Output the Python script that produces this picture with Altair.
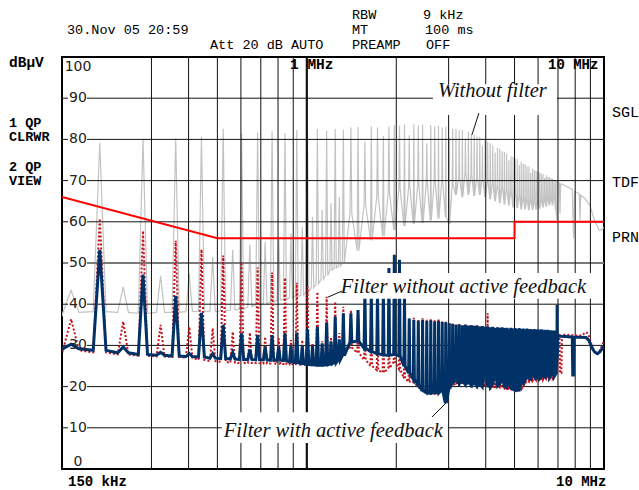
import altair as alt
import pandas as pd

# ---------------- data ----------------
# harmonic frequencies of the converter (MHz)
harm_mhz = [
    0.161, 0.201, 0.241, 0.281, 0.322, 0.362, 0.402, 0.442, 0.482, 0.523,
    0.563, 0.603, 0.643, 0.683, 0.724, 0.764, 0.804, 0.844, 0.884, 0.925,
    0.965, 1.005, 1.045, 1.085, 1.126, 1.166, 1.206, 1.246, 1.286,
    1.327, 1.407, 1.487, 1.568, 1.648, 1.729, 1.809, 1.889, 1.970, 2.050,
    2.131, 2.211, 2.291, 2.372, 2.452, 2.533, 2.613, 2.693, 2.774, 2.854,
    2.935, 3.015, 3.095, 3.176, 3.256, 3.337, 3.417, 3.497, 3.578, 3.658,
    3.739, 3.819, 3.899, 3.980, 4.060, 4.141, 4.221, 4.301, 4.382, 4.462,
    4.543, 4.623, 4.703, 4.784, 4.864, 4.945, 5.025, 5.105, 5.186, 5.266,
    5.347, 5.427, 5.507, 5.588, 5.668, 5.749, 5.829, 5.909, 5.990, 6.070,
    6.151, 6.231, 6.311, 6.392, 6.472, 6.553, 6.633, 6.713, 6.794, 6.874,
    6.955,
]

# Without filter (grey)
gray_start = [0.150, 37.0]
gray_peak_db = [
    43.4, 79.2, 44.2, 80.1, 46.9, 80.2, 47.5, 80.7, 51.5, 82.6,
    53.2, 81.4, 54.4, 81.6, 55.2, 82.0, 56.4, 81.5, 57.2, 82.3,
    58.8, 82.0, 61.2, 82.5, 62.9, 82.1, 64.5, 82.6, 66.0,
    82.4, 82.9, 83.0, 79.5, 83.2, 82.9, 80.8, 83.1, 83.5, 83.3,
    83.6, 81.0, 83.7, 83.4, 83.6, 79.0, 83.5, 83.2, 83.3, 82.9,
    83.1, 80.2, 82.5, 82.6, 82.2, 82.3, 80.0, 81.8, 81.3, 81.1,
    80.7, 80.6, 78.4, 79.9, 79.4, 79.1, 78.5, 76.8, 77.9, 77.7,
    77.1, 77.0, 76.5, 74.9, 75.9, 75.8, 75.3, 75.2, 73.8, 74.6,
    74.1, 74.0, 73.5, 73.4, 71.9, 72.9, 72.5, 72.4, 72.1, 72.0,
    71.7, 71.6, 70.6, 71.3, 70.9, 70.9, 70.6, 70.5, 70.2, 70.1,
    70.0,
]
gray_base_db = [
    38.0, 38.2, 38.0, 37.8, 38.0, 38.0, 38.2, 38.3, 38.2, 38.4,
    38.6, 38.8, 39.4, 39.8, 40.2, 40.5, 41.0, 41.2, 41.5, 41.8,
    42.2, 43.0, 44.0, 45.0, 46.0, 47.0, 48.3, 48.8, 49.2,
    50.0, 62.0, 53.0, 64.0, 55.5, 66.0, 56.5, 67.0, 58.0, 68.0,
    59.0, 68.5, 59.5, 69.0, 59.7, 69.5, 60.3, 70.0, 60.8, 70.0,
    61.2, 59.5, 69.0, 66.5, 71.0, 66.0, 72.0, 66.5, 71.5, 66.3,
    71.0, 66.5, 70.5, 66.0, 70.0, 65.5, 69.5, 65.0, 69.0, 64.5,
    68.5, 64.2, 68.0, 64.0, 67.5, 63.5, 67.0, 63.3, 66.5, 63.0,
    66.0, 63.0, 65.5, 62.8, 65.5, 62.9, 65.0, 63.0, 65.0, 63.2,
    65.5, 63.5, 65.5, 63.7, 66.0, 64.0, 66.0, 64.0, 66.5, 63.0,
    60.4,
]
gray_tail_mhz = [7.00, 7.08, 7.11, 7.15, 7.40, 7.68, 7.82, 7.90, 7.96, 8.18,
                 8.26, 8.30, 8.35, 8.63, 8.97, 9.18, 9.30, 9.62, 9.77, 10.0]
gray_tail_db = [69.6, 69.4, 62.0, 69.2, 68.8, 68.2, 67.8, 56.0, 67.4, 67.0,
                66.8, 60.4, 66.5, 65.6, 64.0, 61.5, 60.3, 58.0, 58.0, 58.6]

# Filter without active feedback (red dotted)
red_start = [0.150, 29.2]
red_peak_db = [
    36.4, 60.8, 35.8, 57.8, 35.0, 55.4, 34.5, 53.3, 34.2, 51.8,
    33.3, 50.2, 33.1, 48.9, 32.1, 47.7, 31.7, 46.4, 31.3, 45.2,
    31.3, 44.3, 30.5, 43.0, 31.0, 41.8, 32.0, 40.6, 33.0,
    39.4, 38.6, 38.2, 37.6, 37.8, 37.2, 37.3, 36.9, 37.0, 36.6,
    36.8, 36.5, 36.7, 36.4, 36.6, 36.3, 36.5, 36.2, 36.3, 36.0,
    35.8, 35.4, 35.3, 35.1, 35.2, 35.0, 35.1, 34.9, 35.0, 34.8,
    34.9, 34.6, 34.5, 34.4, 37.8, 34.3, 34.4, 34.2, 34.3, 34.1,
    34.2, 34.0, 34.1, 33.9, 34.0, 33.8, 33.9, 33.7, 33.8, 33.6,
    33.7, 33.5, 33.6, 33.5, 33.5, 33.4, 33.5, 33.3, 33.4, 33.3,
    33.4, 33.3, 33.3, 33.2, 33.3, 33.2, 33.2, 33.1, 33.2, 33.1,
    33.0,
]
red_base_db = [
    28.8, 28.3, 27.8, 27.5, 27.3, 27.2, 27.0, 26.5, 26.2, 26.0,
    25.8, 25.7, 25.7, 25.7, 25.6, 25.6, 25.5, 25.5, 25.4, 25.4,
    25.3, 25.3, 25.3, 25.4, 25.5, 25.6, 25.8, 26.0, 26.5,
    28.5, 29.5, 28.2, 26.5, 25.0, 24.0, 23.4, 24.5, 26.0, 24.3,
    22.0, 21.2, 21.0, 20.0, 19.5, 19.0, 18.5, 18.3, 18.5, 19.0,
    19.5, 20.0, 20.3, 20.8, 21.0, 20.5, 20.8, 21.0, 20.6, 20.9,
    20.5, 20.3, 20.0, 20.2, 20.0, 19.8, 20.0, 19.9, 20.1, 19.8,
    20.0, 19.6, 19.5, 19.4, 19.3, 19.2, 19.2, 19.0, 19.1, 19.2,
    20.0, 20.8, 21.5, 21.2, 21.8, 21.5, 22.0, 21.6, 22.2, 21.8,
    22.0, 21.7, 22.2, 21.9, 22.3, 22.0, 22.4, 22.1, 22.5, 23.0,
    23.3,
]
red_tail_mhz = [6.985, 7.08, 7.11, 7.19, 7.22, 7.5, 8.0, 8.4, 8.7, 8.85,
                9.05, 9.25, 9.45, 9.65, 9.85, 10.0]
red_tail_db = [33.0, 32.8, 23.3, 23.3, 32.6, 32.6, 32.4, 32.4, 33.2, 32.8,
               30.5, 28.5, 28.0, 28.6, 30.0, 31.0]

# Filter with active feedback (blue)
blue_start = [0.150, 29.5]
blue_peak_db = [
    30.3, 53.2, 29.6, 47.2, 28.3, 42.0, 28.0, 37.9, 28.0, 35.0,
    28.3, 32.9, 29.0, 32.5, 29.7, 32.5, 29.7, 33.0, 29.8, 33.1,
    30.0, 33.9, 30.0, 34.5, 30.5, 35.6, 31.0, 37.0, 31.5,
    37.8, 37.8, 38.6, 43.0, 43.2, 42.8, 43.5, 48.8, 52.0, 50.8,
    42.5, 36.5, 36.2, 36.0, 36.2, 35.9, 36.1, 35.8, 36.0, 35.7,
    35.6, 35.4, 35.2, 35.0, 35.1, 34.9, 35.0, 34.8, 34.9, 34.7,
    34.8, 34.6, 34.7, 34.5, 34.6, 34.4, 34.5, 34.3, 34.4, 34.3,
    34.4, 34.2, 34.3, 34.1, 34.3, 34.1, 34.2, 34.0, 34.2, 34.0,
    34.1, 33.9, 34.1, 33.9, 34.0, 33.8, 34.0, 33.8, 33.9, 33.7,
    33.9, 33.7, 33.8, 33.6, 33.8, 33.6, 33.7, 33.5, 33.6, 33.4,
    39.8,
]
blue_base_db = [
    29.2, 28.8, 28.2, 27.8, 27.6, 27.4, 27.3, 27.2, 26.9, 26.8,
    26.7, 26.6, 26.6, 26.5, 26.5, 26.4, 26.4, 26.3, 26.0, 25.8,
    25.6, 25.4, 25.3, 25.2, 25.2, 25.3, 25.5, 25.8, 26.5,
    27.5, 30.8, 31.0, 29.3, 28.5, 28.0, 27.7, 27.6, 27.8, 27.5,
    25.0, 23.3, 21.8, 20.5, 19.0, 18.5, 18.4, 18.6, 18.5, 19.2,
    16.0, 19.5, 21.0, 21.5, 20.8, 21.3, 20.6, 21.0, 20.4, 20.8,
    20.2, 20.6, 20.0, 26.0, 20.3, 19.9, 20.5, 25.5, 20.2, 20.6,
    24.0, 20.0, 19.8, 22.5, 19.6, 19.4, 19.2, 19.3, 19.2, 24.5,
    20.5, 21.5, 27.0, 22.0, 21.8, 26.5, 22.5, 21.7, 27.0, 22.0,
    22.4, 26.8, 22.0, 22.6, 27.2, 22.3, 22.8, 26.5, 22.5, 23.0,
    27.0,
]
blue_tail_mhz = [6.985, 7.2, 7.6, 7.82, 7.85, 7.89, 7.92, 8.3, 8.7, 8.9,
                 9.1, 9.3, 9.5, 9.7, 9.85, 10.0]
blue_tail_db = [32.3, 32.2, 32.1, 32.0, 22.8, 22.8, 32.0, 32.0, 31.9, 31.2,
                29.5, 28.4, 28.0, 28.5, 29.2, 30.0]

# QP limit line
limit_mhz = [0.15, 0.5, 5.0, 5.0, 10.0]
limit_db = [66, 56, 56, 60, 60]

# grid and tick labels
x_grid_mhz = [0.3, 0.4, 0.5, 0.6, 0.7, 0.8, 0.9, 1, 2, 3, 4, 5, 6, 7, 8, 9]
y_grid_db = [10, 20, 30, 40, 50, 60, 70, 80, 90]

# annotations (data coordinates)
ann_text = ["Without filter", "Filter without active feedback", "Filter with active feedback"]
ann_mhz = [4.21, 3.365, 1.228]
ann_db = [90.3, 42.6, 7.8]
box_mhz1 = [2.657, 1.271, 0.517]
box_mhz2 = [6.947, 9.47, 2.984]
box_db1 = [93.4, 47.6, 13.8]
box_db2 = [85.9, 41.3, 6.3]
lead_mhz1 = [3.793, 1.177, 2.636]
lead_db1 = [86.4, 41.7, 12.6]
lead_mhz2 = [3.594, 1.312, 2.937]
lead_db2 = [81.1, 43.2, 16.0]

for lst in (gray_peak_db, gray_base_db, red_peak_db, red_base_db, blue_peak_db, blue_base_db):
    assert len(lst) == len(harm_mhz), len(lst)

# ---------------- layout / style ----------------
MONO = "Liberation Mono"
SANS = "DejaVu Sans"
SERIF = "Liberation Serif"
W, H = 542, 412
LEFT, TOP = 62, 57
HW = 0.010  # drawn half-width of each harmonic line (MHz)

XS = alt.Scale(type="log", domain=[0.15, 10])
YS = alt.Scale(domain=[0, 100])


def xq(field):
    return alt.X(f"{field}:Q", scale=XS, axis=None)


def yq(field):
    return alt.Y(f"{field}:Q", scale=YS, axis=None)


def trace_df(start, peaks, bases, tail_f, tail_db):
    f = [start[0]]
    d = [start[1]]
    for h, p, b in zip(harm_mhz, peaks, bases):
        f += [h - HW, h, h + HW]
        d += [b, p, b]
    f += tail_f
    d += tail_db
    return pd.DataFrame({"f": f, "db": d, "i": list(range(len(f)))})


def line(df, **kw):
    return alt.Chart(df).mark_line(clip=True, **kw).encode(
        x=xq("f"), y=yq("db"), order="i:Q")


one = pd.DataFrame({"k": [0]})


def label(txt, px, py, size=14, bold=False, font=MONO, align="left", color="#000"):
    return alt.Chart(one).mark_text(
        text=txt, font=font, fontSize=size, fontWeight="bold" if bold else "normal",
        align=align, baseline="middle", color=color,
    ).encode(x=alt.value(px - LEFT), y=alt.value(py - TOP))


gray = line(trace_df(gray_start, gray_peak_db, gray_base_db, gray_tail_mhz, gray_tail_db),
            color="#c3c3c3", strokeWidth=1.2)
red = line(trace_df(red_start, red_peak_db, red_base_db, red_tail_mhz, red_tail_db),
           color="#c4121c", strokeWidth=2, strokeDash=[2, 2])
blue = line(trace_df(blue_start, blue_peak_db, blue_base_db, blue_tail_mhz, blue_tail_db),
            color="#003268", strokeWidth=3)
limit = line(pd.DataFrame({"f": limit_mhz, "db": limit_db, "i": list(range(len(limit_mhz)))}),
             color="#ff0000", strokeWidth=2)

hg_df = pd.DataFrame({"db": y_grid_db})
hgrid = alt.Chart(hg_df).mark_rule().encode(
    y=yq("db"), x=alt.value(25), x2=alt.value(W),
    color=alt.condition(alt.datum.db == 50, alt.value("#7a7a7a"), alt.value("#111")),
    strokeWidth=alt.condition(alt.datum.db == 50, alt.value(2), alt.value(1)),
)
hticks = alt.Chart(hg_df).mark_rule(color="#111", strokeWidth=1).encode(
    y=yq("db"), x=alt.value(0), x2=alt.value(6))

vg_df = pd.DataFrame({"f": x_grid_mhz, "w": [2.2 if v == 1 else 1 for v in x_grid_mhz]})
vgrid = alt.Chart(vg_df).mark_rule(color="#111").encode(
    x=xq("f"), y=alt.value(0), y2=alt.value(H),
    strokeWidth=alt.StrokeWidth("w:Q", scale=None, legend=None))

ylab = alt.Chart(pd.DataFrame({"db": y_grid_db, "t": [str(v) for v in y_grid_db]})).mark_text(
    font=SANS, fontSize=14, align="center", baseline="middle", color="#222"
).encode(x=alt.value(16), y=yq("db"), text="t:N")

boxes = alt.Chart(pd.DataFrame({"f1": box_mhz1, "f2": box_mhz2, "d1": box_db1, "d2": box_db2})).mark_rect(
    color="white").encode(x=xq("f1"), x2="f2:Q", y=yq("d1"), y2="d2:Q")
leads = alt.Chart(pd.DataFrame({"f1": lead_mhz1, "f2": lead_mhz2, "d1": lead_db1, "d2": lead_db2})).mark_rule(
    color="#111", strokeWidth=1).encode(x=xq("f1"), x2="f2:Q", y=yq("d1"), y2="d2:Q")
ann = alt.Chart(pd.DataFrame({"f": ann_mhz, "db": ann_db, "t": ann_text})).mark_text(
    font=SERIF, fontStyle="italic", fontSize=20.5, align="center", baseline="alphabetic", color="#111"
).encode(x=xq("f"), y=yq("db"), text="t:N")

labels = [
    label("100", 78, 67, 14, font=SANS, align="center", color="#222"),
    label("0", 78, 462, 14, font=SANS, align="center", color="#222"),
    label("30.Nov 05 20:59", 67, 29.5, 13.5),
    label("Att 20 dB AUTO", 210, 44.5, 13.5),
    label("RBW", 352, 15, 13.5), label("9 kHz", 423, 15, 13.5),
    label("MT", 352, 29.5, 13.5), label("100 ms", 425, 29.5, 13.5),
    label("PREAMP", 352, 44.5, 13.5), label("OFF", 426, 44.5, 13.5),
    label("dBµV", 9, 62.5, 14.5, bold=True),
    label("1 QP", 9, 122.5, 13.5, bold=True), label("CLRWR", 9, 136.5, 13.5, bold=True),
    label("2 QP", 9, 167, 13.5, bold=True), label("VIEW", 9, 180.5, 13.5, bold=True),
    label("1 MHz", 290, 65, 14.5, bold=True),
    label("10 MHz", 548, 65, 14, bold=True),
    label("150 kHz", 68, 482, 14, bold=True),
    label("10 MHz", 556, 482, 14, bold=True),
    label("SGL", 612, 112, 15), label("TDF", 612, 182, 15), label("PRN", 612, 237, 15),
]

chart = alt.layer(
    gray, hgrid, hticks, vgrid, limit, red, blue, boxes, leads, ann, ylab, *labels
).properties(
    width=W, height=H,
    padding={"left": LEFT, "top": TOP, "right": 639 - LEFT - W, "bottom": 490 - TOP - H},
    autosize=alt.AutoSizeParams(type="none"),
    background="white",
).configure_view(stroke="black", strokeWidth=2)

chart.save("out.html", embed_options={"renderer": "svg", "actions": False})
